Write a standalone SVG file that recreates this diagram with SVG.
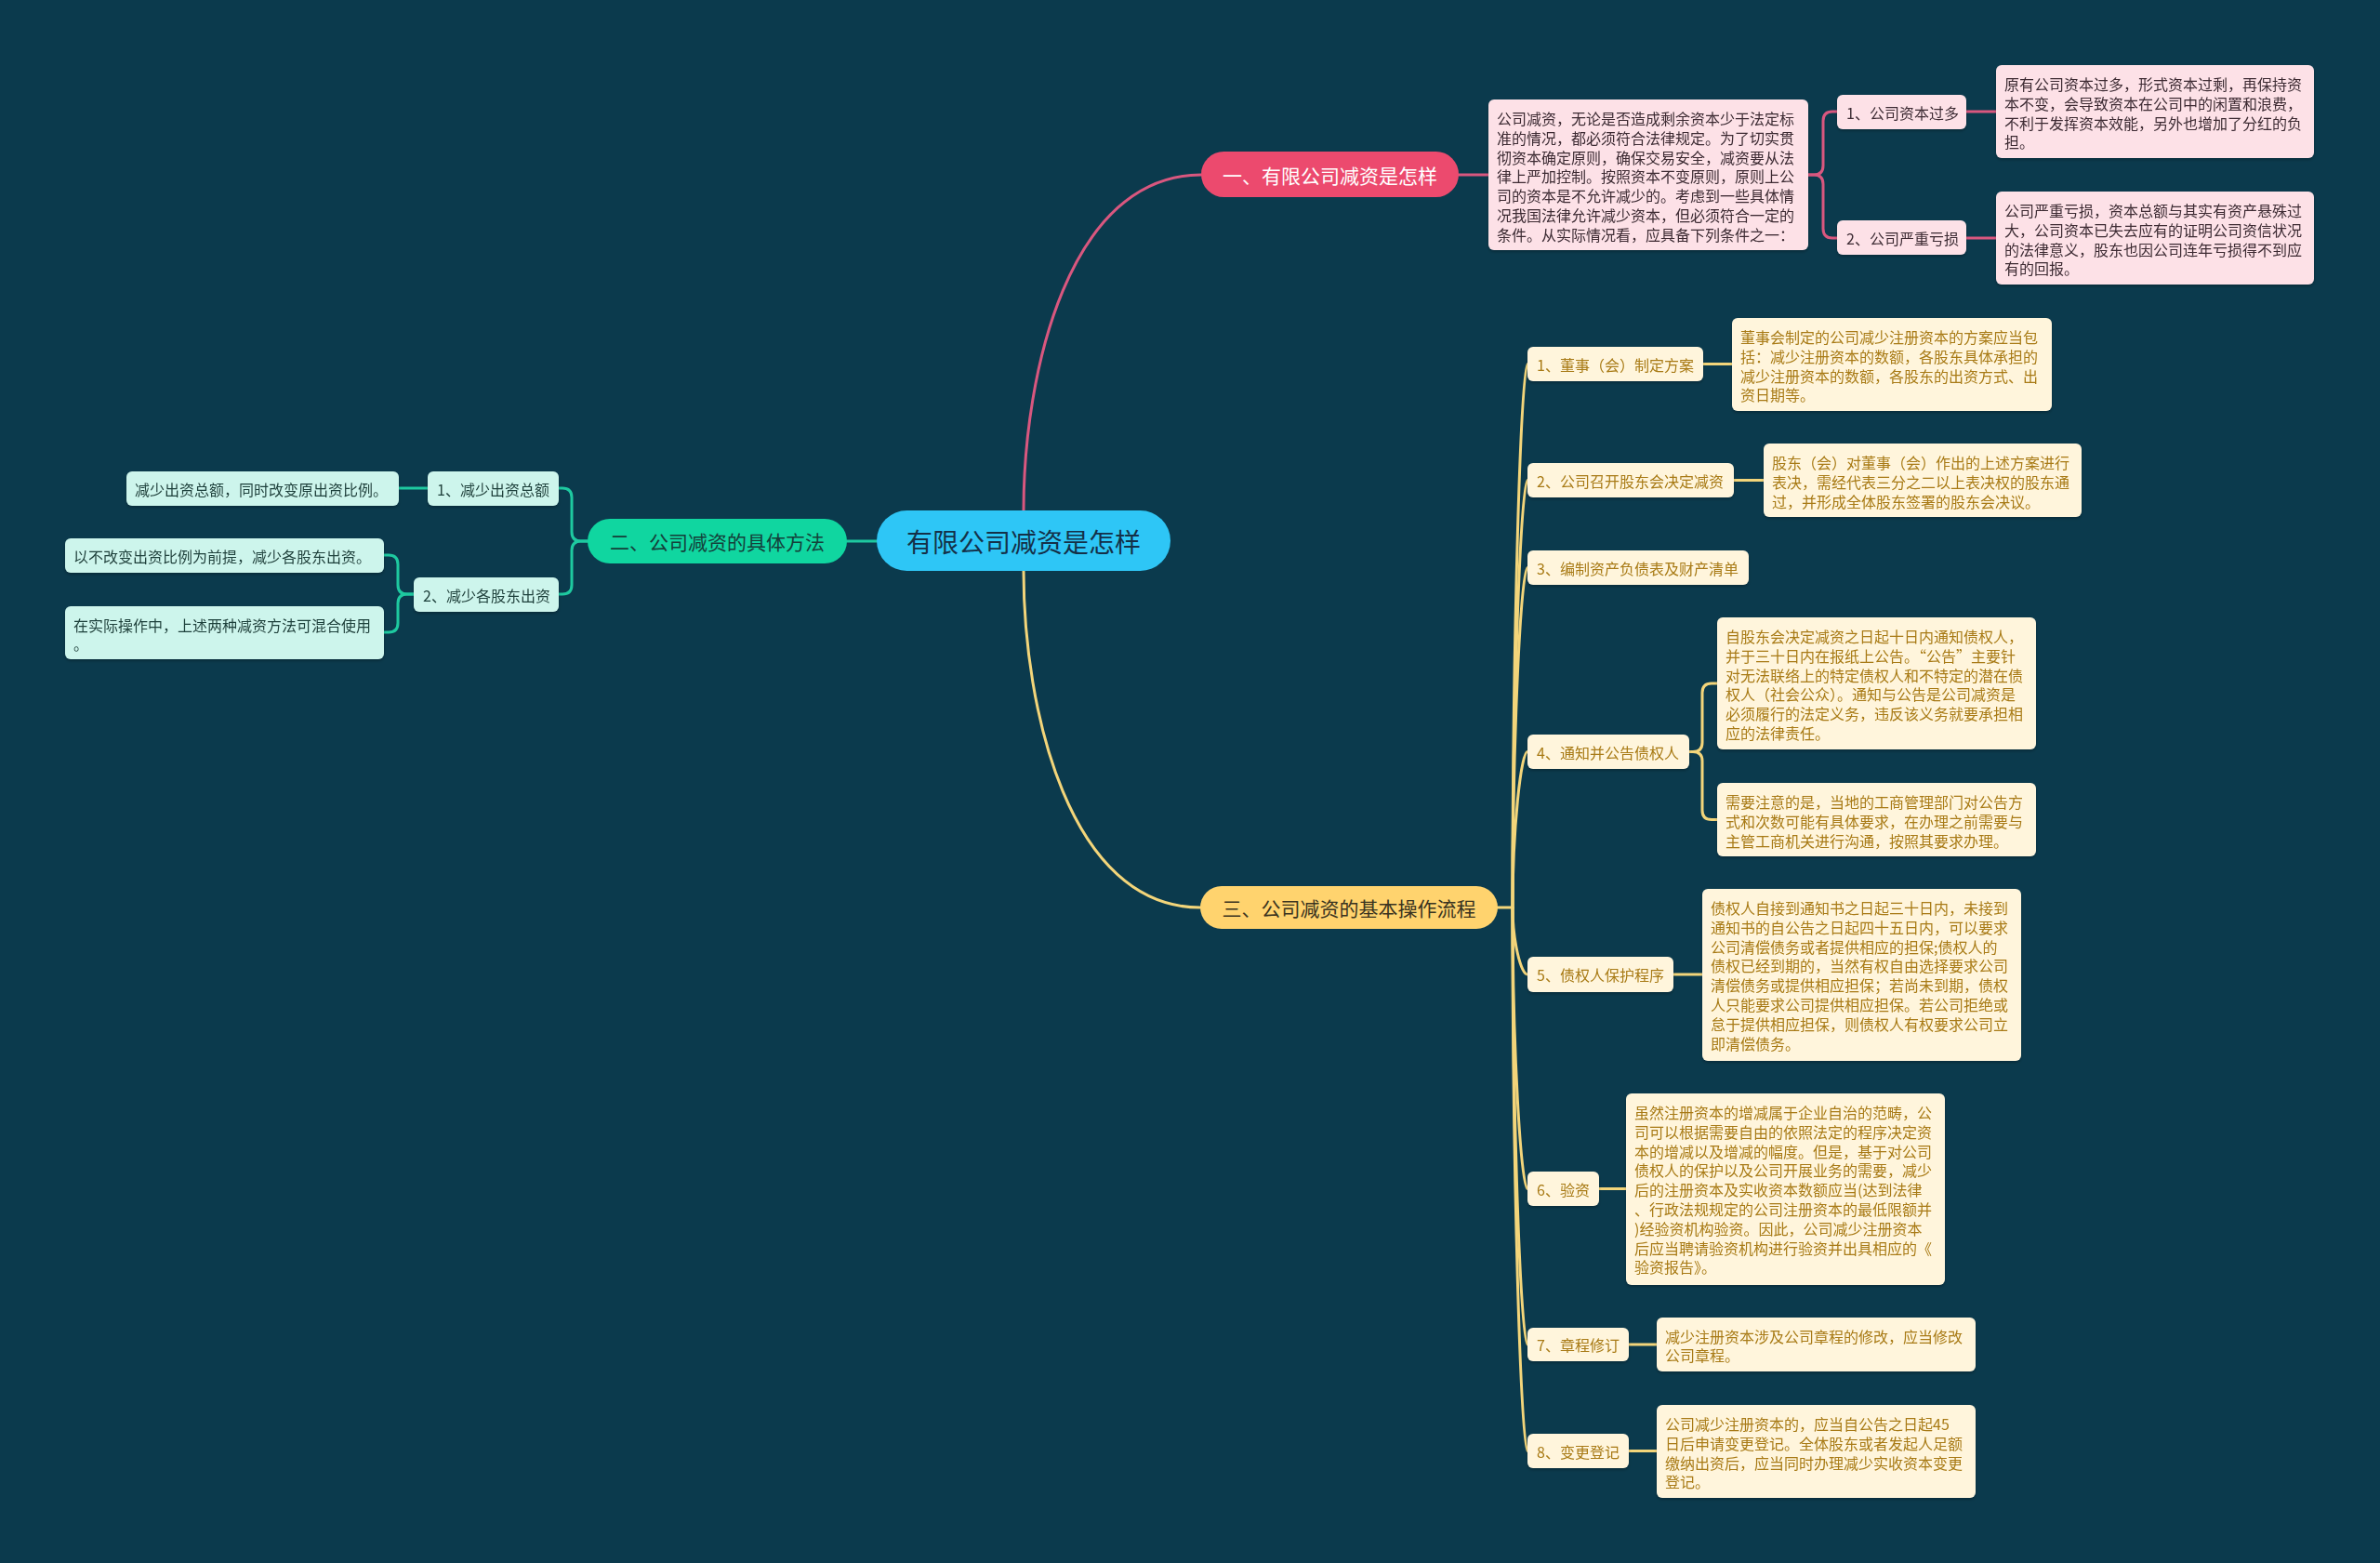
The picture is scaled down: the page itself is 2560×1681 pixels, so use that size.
<svg xmlns="http://www.w3.org/2000/svg" width="2560" height="1681" viewBox="0 0 2560 1681">
<defs>
<style>
text{font-family:"Noto Sans CJK SC","Microsoft YaHei","Noto Sans",sans-serif;dominant-baseline:central}
.root{fill:#2ec6f6}
.root-t{fill:#143048;font-size:28px}
.b1{fill:#ec4a6e}
.b1-t{fill:#ffffff;font-size:21px}
.b2{fill:#10d6a0}
.b2-t{fill:#14403a;font-size:21px}
.b3{fill:#ffd36e}
.b3-t{fill:#3a3320;font-size:21px}
.pn{fill:#fde1e7}
.pt{fill:#3c2b33;font-size:16px}
.gn{fill:#cdf5ec}
.gt{fill:#1f3f3a;font-size:16px}
.yn{fill:#fff5dc}
.yt{fill:#a87a14;font-size:16px}
.c{fill:none;stroke-width:3;stroke-linecap:round;stroke-linejoin:round}
.cp{stroke:#d9577f}
.cg{stroke:#1ec9a0}
.cy{stroke:#f3d57a}
</style>
<filter id="sh" x="-5%" y="-10%" width="110%" height="130%">
<feDropShadow dx="0" dy="2" stdDeviation="1.5" flood-color="#000" flood-opacity="0.25"/>
</filter>
</defs>
<rect width="2560" height="1681" fill="#0b3a4d"/>

<g id="connectors">
<path class="c cp" d="M1101,549 C1101,400 1150,188 1292,188"/>
<path class="c cp" d="M1569,188 H1601"/>
<path class="c cp" d="M1945,188 H1951 Q1961,188 1961,178 V130 Q1961,120 1971,120 H1976"/>
<path class="c cp" d="M1945,188 H1951 Q1961,188 1961,198 V246 Q1961,256 1971,256 H1976"/>
<path class="c cp" d="M2115,120 H2147"/>
<path class="c cp" d="M2115,256 H2147"/>

<path class="c cg" d="M943,582 H911"/>
<path class="c cg" d="M632,582 H625 Q615,582 615,572 V535 Q615,525 605,525 H601"/>
<path class="c cg" d="M632,582 H625 Q615,582 615,592 V629 Q615,639 605,639 H601"/>
<path class="c cg" d="M460,525 H429"/>
<path class="c cg" d="M445,639 H438 Q428,639 428,629 V607 Q428,597 418,597 H413"/>
<path class="c cg" d="M445,639 H438 Q428,639 428,649 V670 Q428,680 418,680 H413"/>

<path class="c cy" d="M1101,614 C1101,763 1150,976 1291,976"/>
<path class="c cy" d="M1611,976 H1627"/>
<path class="c cy" d="M1627,976 C1627,683 1636,391.5 1643,391.5"/>
<path class="c cy" d="M1627,976 C1627,746 1636,516.5 1643,516.5"/>
<path class="c cy" d="M1627,976 C1627,793 1636,610.5 1643,610.5"/>
<path class="c cy" d="M1627,976 C1627,892 1636,808.5 1643,808.5"/>
<path class="c cy" d="M1627,976 C1627,1012 1636,1048 1643,1048"/>
<path class="c cy" d="M1627,976 C1627,1127 1636,1278.5 1643,1278.5"/>
<path class="c cy" d="M1627,976 C1627,1211 1636,1446 1643,1446"/>
<path class="c cy" d="M1627,976 C1627,1268 1636,1560.5 1643,1560.5"/>
<path class="c cy" d="M1832,391.5 H1863"/>
<path class="c cy" d="M1865,516.5 H1897"/>
<path class="c cy" d="M1817,808.5 H1821 Q1831,808.5 1831,798.5 V745 Q1831,735 1841,735 H1847"/>
<path class="c cy" d="M1817,808.5 H1821 Q1831,808.5 1831,818.5 V871.5 Q1831,881.5 1841,881.5 H1847"/>
<path class="c cy" d="M1800,1048 H1831"/>
<path class="c cy" d="M1720,1278.5 H1749"/>
<path class="c cy" d="M1752,1446 H1782"/>
<path class="c cy" d="M1752,1560.5 H1782"/>
</g>

<g id="root">
<rect class="root" x="943" y="549" width="316" height="65" rx="32.5"/>
<text class="root-t" x="1101" y="582" text-anchor="middle">有限公司减资是怎样</text>
</g>

<g id="branch1">
<rect class="b1" x="1292" y="163" width="277" height="49" rx="24.5"/>
<text class="b1-t" x="1430.5" y="188" text-anchor="middle">一、有限公司减资是怎样</text>
</g>
<g id="p0" filter="url(#sh)">
<rect class="pn" x="1601" y="107" width="344" height="162" rx="6"/>
<text class="pt"><tspan x="1610" y="127">公司减资，无论是否造成剩余资本少于法定标</tspan><tspan x="1610" y="147.8">准的情况，都必须符合法律规定。为了切实贯</tspan><tspan x="1610" y="168.6">彻资本确定原则，确保交易安全，减资要从法</tspan><tspan x="1610" y="189.4">律上严加控制。按照资本不变原则，原则上公</tspan><tspan x="1610" y="210.2">司的资本是不允许减少的。考虑到一些具体情</tspan><tspan x="1610" y="231">况我国法律允许减少资本，但必须符合一定的</tspan><tspan x="1610" y="251.8">条件。从实际情况看，应具备下列条件之一：</tspan></text>
</g>
<g id="p1" filter="url(#sh)">
<rect class="pn" x="1976" y="102" width="139" height="37" rx="6"/>
<text class="pt" x="1986" y="120.5">1、公司资本过多</text>
</g>
<g id="p1d" filter="url(#sh)">
<rect class="pn" x="2147" y="70" width="342" height="100" rx="6"/>
<text class="pt"><tspan x="2156" y="90">原有公司资本过多，形式资本过剩，再保持资</tspan><tspan x="2156" y="110.8">本不变，会导致资本在公司中的闲置和浪费，</tspan><tspan x="2156" y="131.6">不利于发挥资本效能，另外也增加了分红的负</tspan><tspan x="2156" y="152.4">担。</tspan></text>
</g>
<g id="p2" filter="url(#sh)">
<rect class="pn" x="1976" y="237" width="139" height="37" rx="6"/>
<text class="pt" x="1986" y="255.5">2、公司严重亏损</text>
</g>
<g id="p2d" filter="url(#sh)">
<rect class="pn" x="2147" y="206" width="342" height="100" rx="6"/>
<text class="pt"><tspan x="2156" y="226">公司严重亏损，资本总额与其实有资产悬殊过</tspan><tspan x="2156" y="246.8">大，公司资本已失去应有的证明公司资信状况</tspan><tspan x="2156" y="267.6">的法律意义，股东也因公司连年亏损得不到应</tspan><tspan x="2156" y="288.4">有的回报。</tspan></text>
</g>

<g id="branch2">
<rect class="b2" x="632" y="558" width="279" height="48" rx="24"/>
<text class="b2-t" x="771.5" y="582" text-anchor="middle">二、公司减资的具体方法</text>
</g>
<g id="g1" filter="url(#sh)">
<rect class="gn" x="460" y="507" width="141" height="37" rx="6"/>
<text class="gt" x="470" y="525.5">1、减少出资总额</text>
</g>
<g id="g1d" filter="url(#sh)">
<rect class="gn" x="136" y="507" width="293" height="37" rx="6"/>
<text class="gt" x="145" y="525.5">减少出资总额，同时改变原出资比例。</text>
</g>
<g id="g2" filter="url(#sh)">
<rect class="gn" x="445" y="621" width="156" height="37" rx="6"/>
<text class="gt" x="455" y="639.5">2、减少各股东出资</text>
</g>
<g id="g2a" filter="url(#sh)">
<rect class="gn" x="70" y="579" width="343" height="37" rx="6"/>
<text class="gt" x="79" y="597.5">以不改变出资比例为前提，减少各股东出资。</text>
</g>
<g id="g2b" filter="url(#sh)">
<rect class="gn" x="70" y="652" width="343" height="57" rx="6"/>
<text class="gt"><tspan x="79" y="671.5">在实际操作中，上述两种减资方法可混合使用</tspan><tspan x="79" y="691.5">。</tspan></text>
</g>

<g id="branch3">
<rect class="b3" x="1291" y="953" width="320" height="46" rx="23"/>
<text class="b3-t" x="1451" y="976" text-anchor="middle">三、公司减资的基本操作流程</text>
</g>
<g id="y1" filter="url(#sh)">
<rect class="yn" x="1643" y="373" width="189" height="37" rx="6"/>
<text class="yt" x="1653" y="391.5">1、董事（会）制定方案</text>
</g>
<g id="y1d" filter="url(#sh)">
<rect class="yn" x="1863" y="342" width="344" height="100" rx="6"/>
<text class="yt"><tspan x="1872" y="362">董事会制定的公司减少注册资本的方案应当包</tspan><tspan x="1872" y="382.8">括：减少注册资本的数额，各股东具体承担的</tspan><tspan x="1872" y="403.6">减少注册资本的数额，各股东的出资方式、出</tspan><tspan x="1872" y="424.4">资日期等。</tspan></text>
</g>
<g id="y2" filter="url(#sh)">
<rect class="yn" x="1643" y="498" width="222" height="37" rx="6"/>
<text class="yt" x="1653" y="516.5">2、公司召开股东会决定减资</text>
</g>
<g id="y2d" filter="url(#sh)">
<rect class="yn" x="1897" y="477" width="342" height="79" rx="6"/>
<text class="yt"><tspan x="1906" y="497">股东（会）对董事（会）作出的上述方案进行</tspan><tspan x="1906" y="517.8">表决，需经代表三分之二以上表决权的股东通</tspan><tspan x="1906" y="538.6">过，并形成全体股东签署的股东会决议。</tspan></text>
</g>
<g id="y3" filter="url(#sh)">
<rect class="yn" x="1643" y="592" width="238" height="37" rx="6"/>
<text class="yt" x="1653" y="610.5">3、编制资产负债表及财产清单</text>
</g>
<g id="y4" filter="url(#sh)">
<rect class="yn" x="1643" y="790" width="174" height="37" rx="6"/>
<text class="yt" x="1653" y="808.5">4、通知并公告债权人</text>
</g>
<g id="y4a" filter="url(#sh)">
<rect class="yn" x="1847" y="664" width="343" height="142" rx="6"/>
<text class="yt"><tspan x="1856" y="684">自股东会决定减资之日起十日内通知债权人，</tspan><tspan x="1856" y="704.8">并于三十日内在报纸上公告。“公告”主要针</tspan><tspan x="1856" y="725.6">对无法联络上的特定债权人和不特定的潜在债</tspan><tspan x="1856" y="746.4">权人（社会公众）。通知与公告是公司减资是</tspan><tspan x="1856" y="767.2">必须履行的法定义务，违反该义务就要承担相</tspan><tspan x="1856" y="788">应的法律责任。</tspan></text>
</g>
<g id="y4b" filter="url(#sh)">
<rect class="yn" x="1847" y="842" width="343" height="79" rx="6"/>
<text class="yt"><tspan x="1856" y="862">需要注意的是，当地的工商管理部门对公告方</tspan><tspan x="1856" y="882.8">式和次数可能有具体要求，在办理之前需要与</tspan><tspan x="1856" y="903.6">主管工商机关进行沟通，按照其要求办理。</tspan></text>
</g>
<g id="y5" filter="url(#sh)">
<rect class="yn" x="1643" y="1029" width="157" height="38" rx="6"/>
<text class="yt" x="1653" y="1048">5、债权人保护程序</text>
</g>
<g id="y5d" filter="url(#sh)">
<rect class="yn" x="1831" y="956" width="343" height="185" rx="6"/>
<text class="yt"><tspan x="1840" y="976">债权人自接到通知书之日起三十日内，未接到</tspan><tspan x="1840" y="996.8">通知书的自公告之日起四十五日内，可以要求</tspan><tspan x="1840" y="1017.6">公司清偿债务或者提供相应的担保;债权人的</tspan><tspan x="1840" y="1038.4">债权已经到期的，当然有权自由选择要求公司</tspan><tspan x="1840" y="1059.2">清偿债务或提供相应担保；若尚未到期，债权</tspan><tspan x="1840" y="1080">人只能要求公司提供相应担保。若公司拒绝或</tspan><tspan x="1840" y="1100.8">怠于提供相应担保，则债权人有权要求公司立</tspan><tspan x="1840" y="1121.6">即清偿债务。</tspan></text>
</g>
<g id="y6" filter="url(#sh)">
<rect class="yn" x="1643" y="1260" width="77" height="37" rx="6"/>
<text class="yt" x="1653" y="1278.5">6、验资</text>
</g>
<g id="y6d" filter="url(#sh)">
<rect class="yn" x="1749" y="1176" width="343" height="206" rx="6"/>
<text class="yt"><tspan x="1758" y="1196">虽然注册资本的增减属于企业自治的范畴，公</tspan><tspan x="1758" y="1216.8">司可以根据需要自由的依照法定的程序决定资</tspan><tspan x="1758" y="1237.6">本的增减以及增减的幅度。但是，基于对公司</tspan><tspan x="1758" y="1258.4">债权人的保护以及公司开展业务的需要，减少</tspan><tspan x="1758" y="1279.2">后的注册资本及实收资本数额应当(达到法律</tspan><tspan x="1758" y="1300">、行政法规规定的公司注册资本的最低限额并</tspan><tspan x="1758" y="1320.8">)经验资机构验资。因此，公司减少注册资本</tspan><tspan x="1758" y="1341.6">后应当聘请验资机构进行验资并出具相应的《</tspan><tspan x="1758" y="1362.4">验资报告》。</tspan></text>
</g>
<g id="y7" filter="url(#sh)">
<rect class="yn" x="1643" y="1428" width="109" height="36" rx="6"/>
<text class="yt" x="1653" y="1446">7、章程修订</text>
</g>
<g id="y7d" filter="url(#sh)">
<rect class="yn" x="1782" y="1417" width="343" height="58" rx="6"/>
<text class="yt"><tspan x="1791" y="1436.5">减少注册资本涉及公司章程的修改，应当修改</tspan><tspan x="1791" y="1456.5">公司章程。</tspan></text>
</g>
<g id="y8" filter="url(#sh)">
<rect class="yn" x="1643" y="1542" width="109" height="37" rx="6"/>
<text class="yt" x="1653" y="1560.5">8、变更登记</text>
</g>
<g id="y8d" filter="url(#sh)">
<rect class="yn" x="1782" y="1511" width="343" height="100" rx="6"/>
<text class="yt"><tspan x="1791" y="1531">公司减少注册资本的，应当自公告之日起45</tspan><tspan x="1791" y="1551.8">日后申请变更登记。全体股东或者发起人足额</tspan><tspan x="1791" y="1572.6">缴纳出资后，应当同时办理减少实收资本变更</tspan><tspan x="1791" y="1593.4">登记。</tspan></text>
</g>
</svg>
